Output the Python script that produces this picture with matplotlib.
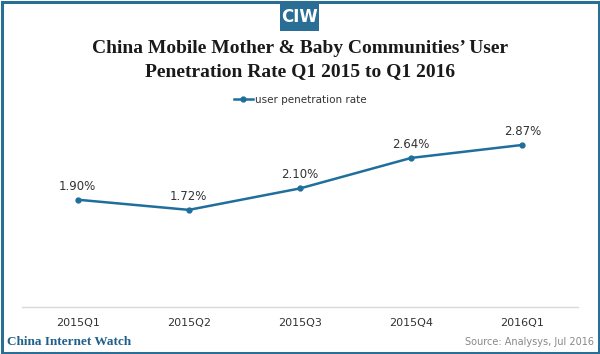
import matplotlib
matplotlib.use("Agg")
from matplotlib import pyplot as plt
from matplotlib.patches import Rectangle

quarters = ["2015Q1", "2015Q2", "2015Q3", "2015Q4", "2016Q1"]
rates = [1.90, 1.72, 2.10, 2.64, 2.87]
rate_labels = ["1.90%", "1.72%", "2.10%", "2.64%", "2.87%"]

blue = "#1f6e9c"
W, H = 600, 354

fig = plt.figure(figsize=(W / 100, H / 100), dpi=100)
fig.patch.set_facecolor("white")

# outer frame
fig.patches.append(Rectangle((1.5 / W, 1.5 / H), 597 / W, 351 / H, transform=fig.transFigure,
                             fill=False, edgecolor="#2a6e96", linewidth=2.2))
# logo box
fig.patches.append(Rectangle((280 / W, 1 - 31 / H), 39 / W, 29 / H, transform=fig.transFigure,
                             facecolor="#2a6e96", edgecolor="none"))
fig.text(299.5 / W, 1 - 17 / H, "CIW", color="white", fontsize=12, fontweight="bold",
         family="Liberation Sans Narrow", ha="center", va="center")

fig.text(0.5, 1 - 60 / H, "China Mobile Mother & Baby Communities\u2019 User\nPenetration Rate Q1 2015 to Q1 2016",
         ha="center", va="center", fontsize=14, fontweight="bold", family="Liberation Serif",
         linespacing=1.45, color="#1a1a1a")

ax = fig.add_axes([22 / W, (H - 307) / H, 556 / W, 192 / H])
x = range(len(quarters))
ax.plot(x, rates, color=blue, linewidth=1.8, marker="o", markersize=3.5, label="user penetration rate")
for i, (v, lab) in enumerate(zip(rates, rate_labels)):
    ax.annotate(lab, (i, v), xytext=(0, 5), textcoords="offset points", ha="center", va="bottom",
                fontsize=8.5, color="#333333", family="DejaVu Sans")

ax.set_xlim(-0.5, 4.5)
ax.set_ylim(0, 3.4)
ax.set_xticks(list(x))
ax.set_xticklabels(quarters, fontsize=8, color="#333333")
ax.tick_params(axis="x", length=0, pad=8)
ax.set_yticks([])
for s in ["top", "left", "right"]:
    ax.spines[s].set_visible(False)
ax.spines["bottom"].set_color("#d9d9d9")
ax.spines["bottom"].set_linewidth(1)

leg = ax.legend(loc="center", bbox_to_anchor=(0.5, (307 - 100) / 192), frameon=False,
                fontsize=7.5, handlelength=1.8, borderpad=0, handletextpad=0.2)
for t in leg.get_texts():
    t.set_color("#333333")

fig.text(7 / W, 1 - 342 / H, "China Internet Watch", color="#1f5f8b", fontsize=9.5,
         fontweight="bold", family="Liberation Serif", ha="left", va="center")
fig.text(594 / W, 1 - 342 / H, "Source: Analysys, Jul 2016", color="#888888", fontsize=7,
         ha="right", va="center")

fig.savefig("out.png", dpi=100)
